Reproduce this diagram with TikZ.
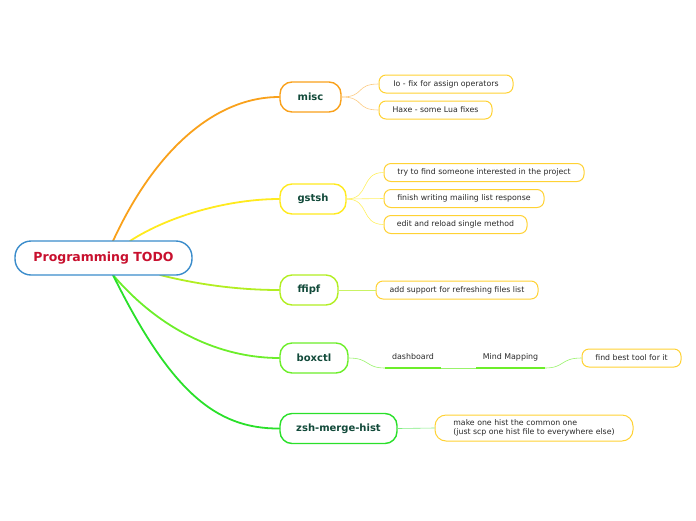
\documentclass[tikz,border=0pt]{standalone}
\usepackage{fontspec}
\setmainfont{DejaVu Sans}
\definecolor{rootblue}{HTML}{3A8CCB}
\definecolor{roottext}{HTML}{C8102E}
\definecolor{maintext}{HTML}{124A3A}
\definecolor{cOrange}{HTML}{F9A11B}
\definecolor{cYellow}{HTML}{FFEA1E}
\definecolor{cLime}{HTML}{B2EE22}
\definecolor{cGreen}{HTML}{6CEE2A}
\definecolor{cDGreen}{HTML}{2AE02A}
\definecolor{gold}{HTML}{FFD234}
\definecolor{childtext}{HTML}{2A2A2A}
\begin{document}
\begin{tikzpicture}[x=1pt,y=-1pt,
  rootbox/.style={draw=rootblue, line width=1.4pt, rounded corners=16pt, fill=white,
    minimum width=177pt, minimum height=34pt, inner sep=0pt,
    text=roottext, font=\fontsize{12.5}{14}\selectfont\bfseries},
  mainbox/.style={draw=#1, line width=1.4pt, rounded corners=12pt, fill=white,
    minimum height=30pt, inner sep=0pt, text=maintext,
    font=\fontsize{10}{12}\selectfont\bfseries},
  leafbox/.style={draw=gold, line width=1pt, rounded corners=7pt, fill=white,
    minimum height=18pt, inner sep=0pt, text=childtext,
    font=\fontsize{7.8}{9}\selectfont},
  plainlbl/.style={inner sep=0pt, text=childtext, font=\fontsize{7.9}{9}\selectfont},
  trunk/.style={line width=1.8pt, line cap=round},
  twig/.style={line width=0.6pt}
]
\useasboundingbox (0,0) rectangle (696,520);

\coordinate (r1) at (113,241);
\coordinate (r2) at (130,241);
\coordinate (r3) at (160,275);
\coordinate (r4) at (113,275);
\coordinate (r5) at (113,275);

\node[mainbox=cOrange, minimum width=61pt] (misc) at (310.5,97) {misc};
\node[mainbox=cYellow, minimum width=66pt] (gstsh) at (313,199) {gstsh};
\node[mainbox=cLime, minimum width=58pt] (ffipf) at (309,290) {ffipf};
\node[mainbox=cGreen, minimum width=68pt] (boxctl) at (314,358) {boxctl};
\node[mainbox=cDGreen, minimum width=117pt] (zsh) at (338.5,428.5) {zsh-merge-hist};

\draw[trunk, cOrange] (r1) .. controls (155,150) and (215,97) .. (misc.west);
\draw[trunk, cYellow] (r2) .. controls (170,215) and (230,199) .. (gstsh.west);
\draw[trunk, cLime] (r3) .. controls (200,285) and (240,290) .. (ffipf.west);
\draw[trunk, cGreen] (r4) .. controls (160,330) and (220,358) .. (boxctl.west);
\draw[trunk, cDGreen] (r5) .. controls (170,390) and (215,429) .. (zsh.west);

\node[rootbox] (root) at (103.5,258) {Programming TODO};

% misc leaves
\node[leafbox, minimum width=134pt] (io) at (446,84) {Io - fix for assign operators};
\node[leafbox, minimum width=113pt] (haxe) at (435.5,110) {Haxe - some Lua fixes};
\draw[twig, cOrange!55] (misc.east) .. controls (365,97) and (355,84) .. (io.west);
\draw[twig, cOrange!55] (misc.east) .. controls (365,97) and (355,110) .. (haxe.west);

% gstsh leaves
\node[leafbox, minimum width=200pt] (try) at (484,172.5) {try to find someone interested in the project};
\node[leafbox, minimum width=160pt] (fin) at (464,198.5) {finish writing mailing list response};
\node[leafbox, minimum width=143pt] (edit) at (455.5,224.5) {edit and reload single method};
\draw[twig, cYellow!70] (gstsh.east) .. controls (370,199) and (360,172.5) .. (try.west);
\draw[twig, cYellow!70] (gstsh.east) -- (fin.west);
\draw[twig, cYellow!70] (gstsh.east) .. controls (370,199) and (360,224.5) .. (edit.west);

% ffipf leaf
\node[leafbox, minimum width=162pt] (add) at (457,290) {add support for refreshing files list};
\draw[twig, cLime!70] (ffipf.east) -- (add.west);

% boxctl chain
\node[plainlbl] (dash) at (413,357) {dashboard};
\node[plainlbl] (mm) at (510.5,357) {Mind Mapping};
\coordinate (d1) at (385,368);
\coordinate (d2) at (441,368);
\coordinate (m1) at (476,368);
\coordinate (m2) at (545,368);
\node[leafbox, minimum width=99pt] (best) at (631.5,358) {find best tool for it};
\draw[twig, cGreen!70] (boxctl.east) .. controls (370,358) and (365,368) .. (d1);
\draw[twig, cGreen!70] (d2) -- (m1);
\draw[twig, cGreen!70] (m2) .. controls (565,368) and (560,358) .. (best.west);
\draw[line width=1.8pt, cGreen] (d1) -- (d2);
\draw[line width=1.8pt, cGreen] (m1) -- (m2);

% zsh leaf
\node[leafbox, minimum width=198pt, minimum height=26pt, rounded corners=11pt, align=left] (make) at (534,428) {make one hist the common one\\(just scp one hist file to everywhere else)};
\draw[twig, cDGreen!60] (zsh.east) -- (make.west);
\end{tikzpicture}
\end{document}
